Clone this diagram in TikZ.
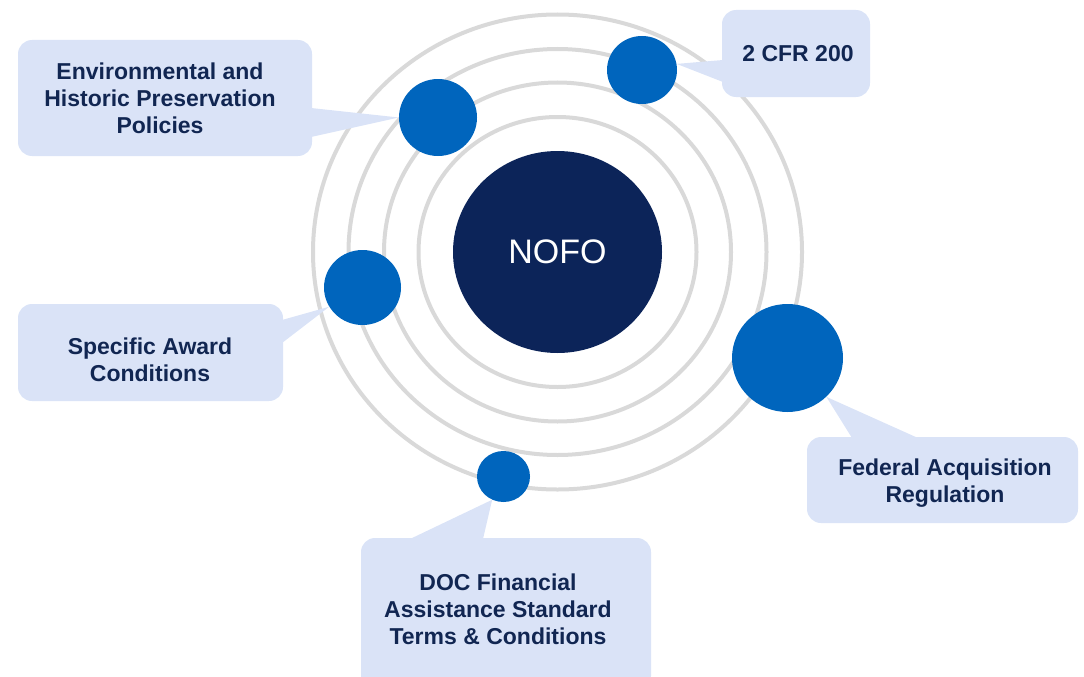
\documentclass[tikz,border=0pt]{standalone}
\usepackage{fontspec}
\setmainfont{Liberation Sans}
\usetikzlibrary{shapes.geometric}
\definecolor{ringgray}{RGB}{217,217,217}
\definecolor{callfill}{RGB}{218,227,247}
\definecolor{orbblue}{RGB}{0,101,189}
\definecolor{navy}{RGB}{12,36,89}
\definecolor{navytext}{RGB}{17,38,82}
\pgfdeclarelayer{bg}
\pgfsetlayers{bg,main}
\begin{document}
\begin{tikzpicture}[x=1pt,y=-1pt,
  ring/.style={draw=ringgray,line width=4pt},
  orb/.style={ellipse,fill=orbblue,inner sep=0pt},
  callbox/.style={fill=callfill,rounded corners=14pt,inner sep=0pt},
  pointer/.style={fill=callfill},
  lbl/.style={text=navytext,font=\bfseries\fontsize{23}{27}\selectfont,align=center,inner sep=0pt}]
\useasboundingbox (0,0) rectangle (1084,677);
\clip (0,0) rectangle (1084,677);
% orbs
\node[ellipse,fill=navy,inner sep=0pt,minimum width=209pt,minimum height=202pt,
  text=white,font=\fontsize{34}{40}\selectfont] (nofo) at (557.5,252) {NOFO};
\node[orb,minimum width=78pt,minimum height=77pt] (envc) at (438,117.5) {};
\node[orb,minimum width=70pt,minimum height=68pt] (cfrc) at (642,70) {};
\node[orb,minimum width=77pt,minimum height=75pt] (specc) at (362.5,287.5) {};
\node[orb,minimum width=111pt,minimum height=108pt] (farc) at (787.5,358) {};
\node[orb,minimum width=53pt,minimum height=51pt] (docc) at (503.5,476.5) {};
\begin{pgfonlayer}{bg}
  % rings
  \draw[ring] (nofo.center) ellipse [x radius=244.5, y radius=237.5];
  \draw[ring] (nofo.center) ellipse [x radius=209, y radius=203];
  \draw[ring] (nofo.center) ellipse [x radius=173.5, y radius=169.5];
  \draw[ring] (nofo.center) ellipse [x radius=139, y radius=135];
  % callout boxes
  \node[callbox,minimum width=294pt,minimum height=116pt] (envbox) at (165,98) {};
  \node[callbox,minimum width=148pt,minimum height=87pt] (cfrbox) at (796,53.5) {};
  \node[callbox,minimum width=265pt,minimum height=97pt] (specbox) at (150.5,352.5) {};
  \node[callbox,minimum width=271pt,minimum height=86pt] (farbox) at (942.5,480) {};
  \node[callbox,minimum width=290pt,minimum height=152pt] (docbox) at (506,614) {};
  % pointers
  \coordinate (envb1) at (311,108); \coordinate (envb2) at (311,137);
  \fill[pointer] (envb1) -- (envc.west) -- (envb2) -- cycle;
  \coordinate (cfrb1) at (723,60); \coordinate (cfrb2) at (723,82);
  \fill[pointer] (cfrb1) -- (cfrc.10) -- (cfrb2) -- cycle;
  \coordinate (specb1) at (282,320); \coordinate (specb2) at (282,343);
  \fill[pointer] (specb1) -- (specc.210) -- (specb2) -- cycle;
  \coordinate (farb1) at (852,438); \coordinate (farb2) at (918,438);
  \fill[pointer] (farb1) -- (farc.-45) -- (farb2) -- cycle;
  \coordinate (docb1) at (410,539); \coordinate (docb2) at (483,539);
  \fill[pointer] (docb1) -- (docc.244) -- (docb2) -- cycle;
\end{pgfonlayer}
% labels
\node[lbl] (envtxt) at (160,98) {Environmental and\\Historic Preservation\\Policies};
\node[lbl] (cfrtxt) at (798,53.5) {2 CFR 200};
\node[lbl] (spectxt) at (150,359.5) {Specific Award\\Conditions};
\node[lbl] (fartxt) at (945,483) {Federal Acquisition\\Regulation};
\node[lbl] (doctxt) at (498,609.5) {DOC Financial\\Assistance Standard\\Terms \& Conditions};
\end{tikzpicture}
\end{document}
